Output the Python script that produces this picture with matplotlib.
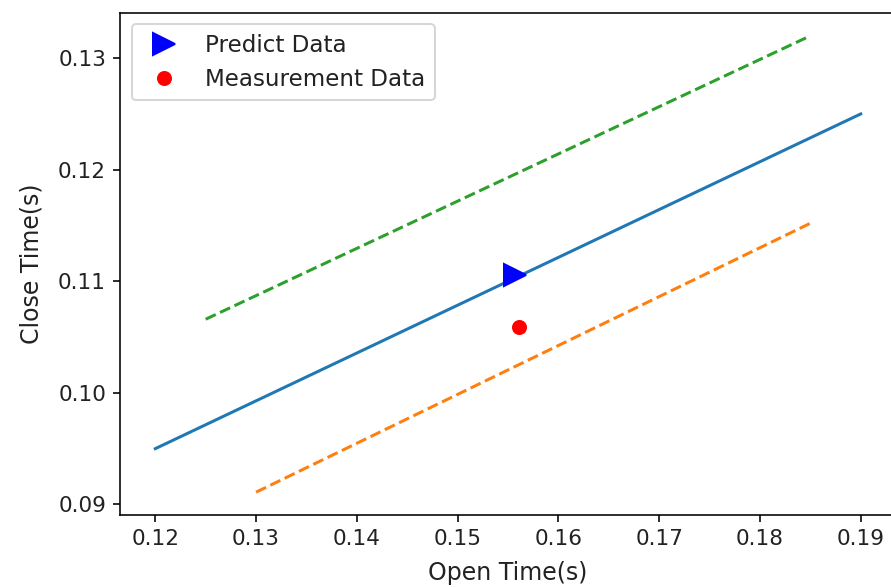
import numpy as np
import matplotlib
matplotlib.use("Agg")
import matplotlib.pyplot as plt

# 预测线与上下边界（开启时间 -> 关闭时间）
fit_x = [0.12, 0.19]
fit_y = [0.095, 0.125]
upper_x = [0.125, 0.185]
upper_y = [0.1066, 0.1320]
lower_x = [0.130, 0.185]
lower_y = [0.0911, 0.1152]

# 预测点与实测点
predict_x = [0.1557]
predict_y = [0.1106]
measure_x = [0.1561]
measure_y = [0.1059]

plt.rcParams['text.color'] = '#222222'
plt.rcParams['axes.labelcolor'] = '#222222'
plt.rcParams['xtick.labelcolor'] = '#222222'
plt.rcParams['ytick.labelcolor'] = '#222222'

fig = plt.figure(figsize=(891 / 144, 587 / 144), dpi=144)
ax = fig.add_axes([120 / 891, 1 - 515 / 587, 776 / 891, 502 / 587])

ax.plot(fit_x, fit_y)
ax.plot(lower_x, lower_y, '--')
ax.plot(upper_x, upper_y, '--')
ax.plot(predict_x, predict_y, 'b>', markersize=11, label='Predict Data')
ax.plot(measure_x, measure_y, 'ro', markersize=6.5, label='Measurement Data')

ax.set_xlabel('Open Time(s)', fontsize=11.8, labelpad=6)
ax.set_ylabel('Close Time(s)', fontsize=11.8, labelpad=7)
ax.set_xticks([0.12, 0.13, 0.14, 0.15, 0.16, 0.17, 0.18, 0.19])
ax.set_yticks([0.09, 0.10, 0.11, 0.12, 0.13])
ax.tick_params(labelsize=10.8)
ax.legend(loc='upper left', fontsize=11.5, borderaxespad=0.5)

fig.savefig('out.png', dpi=144)
